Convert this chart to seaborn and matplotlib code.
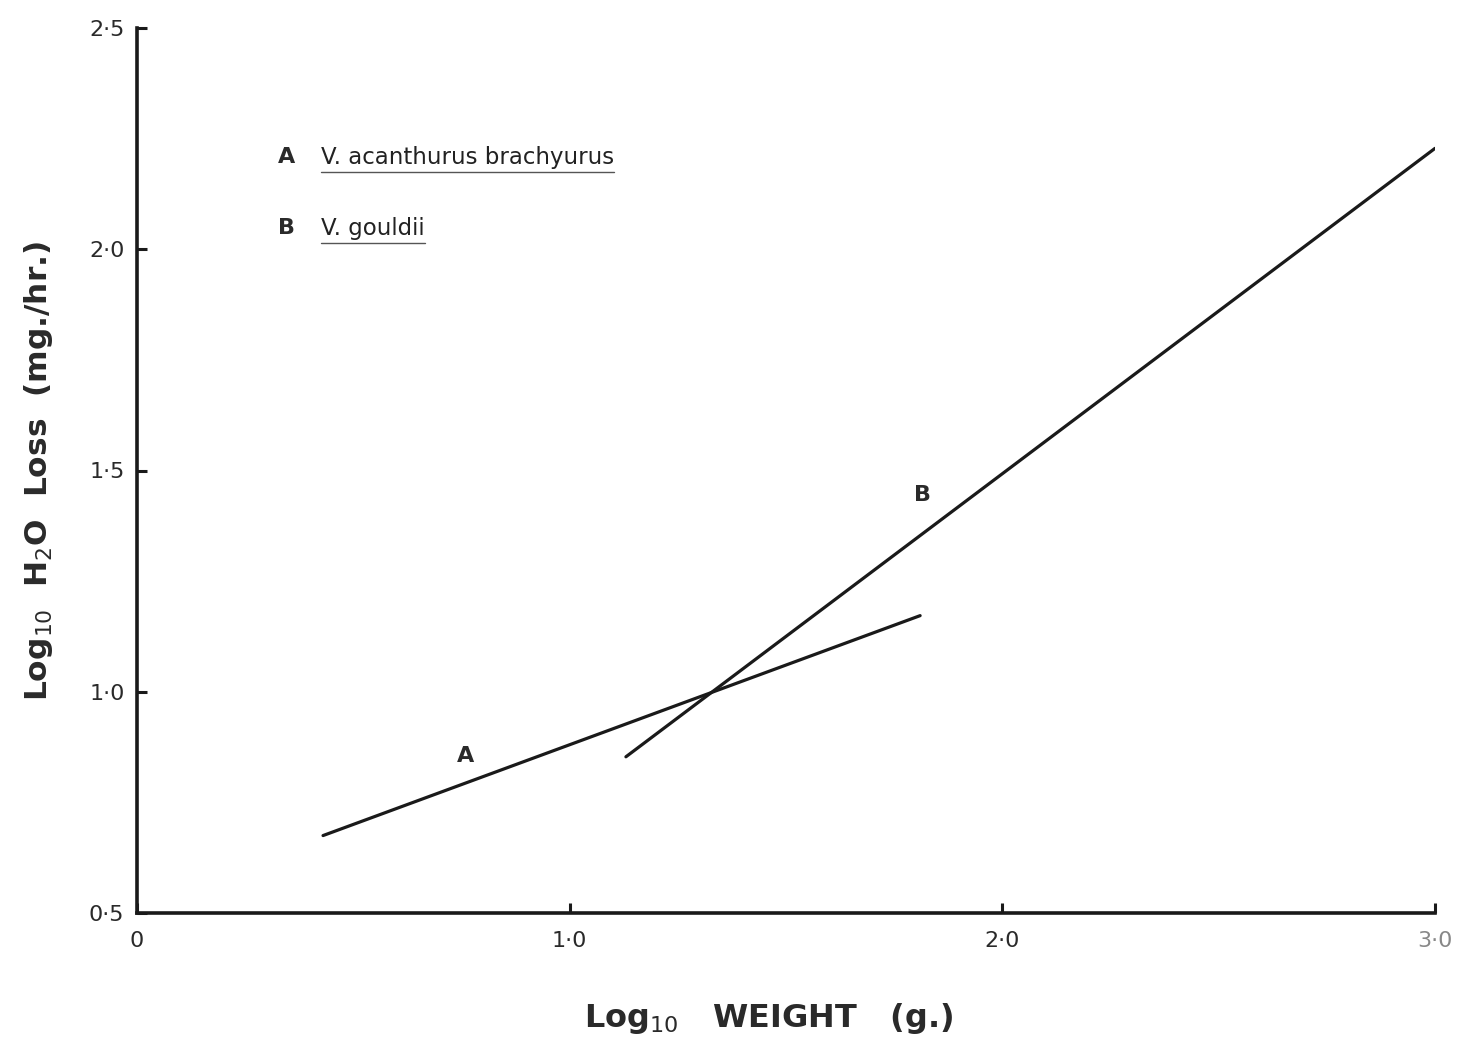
import matplotlib
matplotlib.use("Agg")
import matplotlib.pyplot as plt
import seaborn as sns
import pandas as pd
from matplotlib.lines import Line2D

# ---- data ----
line_a_x = [0.43, 1.81]
line_a_y = [0.675, 1.172]
line_b_x = [1.13, 3.0]
line_b_y = [0.853, 2.228]
x_ticks = [0.0, 1.0, 2.0, 3.0]
x_tick_labels = ["0", "1·0", "2·0", "3·0"]
y_ticks = [0.5, 1.0, 1.5, 2.0, 2.5]
y_tick_labels = ["0·5", "1·0", "1·5", "2·0", "2·5"]
series_names = ["A", "B"]
species_names = ["V. acanthurus brachyurus", "V. gouldii"]
label_pos_x = [0.76, 1.815]
label_pos_y = [0.855, 1.445]

df = pd.concat([
    pd.DataFrame({"x": line_a_x, "y": line_a_y, "s": "A"}),
    pd.DataFrame({"x": line_b_x, "y": line_b_y, "s": "B"}),
])

sns.set_theme(style="white")
plt.rcParams["font.family"] = ["DejaVu Sans"]
plt.rcParams["mathtext.fontset"] = "dejavusans"

fig = plt.figure(figsize=(14.57, 10.52), dpi=100)
ax = fig.add_axes([137 / 1457, 1 - 913 / 1052, (1435 - 137) / 1457, (913 - 28) / 1052])

sns.lineplot(data=df, x="x", y="y", hue="s", units="s", estimator=None,
             palette={"A": "#1a1a1a", "B": "#1a1a1a"}, linewidth=2.3,
             legend=False, ax=ax, sort=False)

ax.set_xlim(0, 3.0)
ax.set_ylim(0.5, 2.5)
ax.set_xticks(x_ticks)
ax.set_xticklabels(x_tick_labels)
ax.set_yticks(y_ticks)
ax.set_yticklabels(y_tick_labels)

for side in ["top", "right"]:
    ax.spines[side].set_visible(False)
for side in ["left", "bottom"]:
    ax.spines[side].set_color("#1a1a1a")
    ax.spines[side].set_linewidth(2.6)

ax.tick_params(axis="both", direction="in", length=7, width=2.2, colors="#1a1a1a",
               labelsize=16, labelcolor="#2a2a2a", bottom=True, left=True)
ax.tick_params(axis="x", pad=13)
ax.tick_params(axis="y", pad=9)
ax.get_xticklabels()[-1].set_color("#888888")

ax.set_xlabel("Log$_{10}$   WEIGHT   (g.)", fontsize=23, fontweight="bold",
              color="#2a2a2a")
ax.xaxis.set_label_coords(0.487, -0.1)
ax.set_ylabel("Log$_{10}$  H$_2$O  Loss  (mg./hr.)", fontsize=22.5, fontweight="bold",
              color="#2a2a2a")
ax.yaxis.set_label_coords(-0.063, 0.5)

for name, lx, ly in zip(series_names, label_pos_x, label_pos_y):
    ax.text(lx, ly, name, fontsize=16, fontweight="bold", color="#2a2a2a",
            ha="center", va="center")

legend_y = [2.208, 2.048]
texts = []
for name, sp, ly in zip(series_names, species_names, legend_y):
    ax.text(0.345, ly, name, fontsize=16, fontweight="bold", color="#2a2a2a",
            ha="center", va="center")
    t = ax.text(0.425, ly, sp, fontsize=16.5, color="#222222", ha="left", va="center")
    texts.append(t)

fig.canvas.draw()
renderer = fig.canvas.get_renderer()
for t in texts:
    bb = t.get_window_extent(renderer)
    y0 = bb.y0 - 3
    fig.add_artist(Line2D([bb.x0 / fig.bbox.width, bb.x1 / fig.bbox.width],
                          [y0 / fig.bbox.height, y0 / fig.bbox.height],
                          transform=fig.transFigure, color="#555555", linewidth=1.0))

fig.savefig("out.png", dpi=100, facecolor="white")
